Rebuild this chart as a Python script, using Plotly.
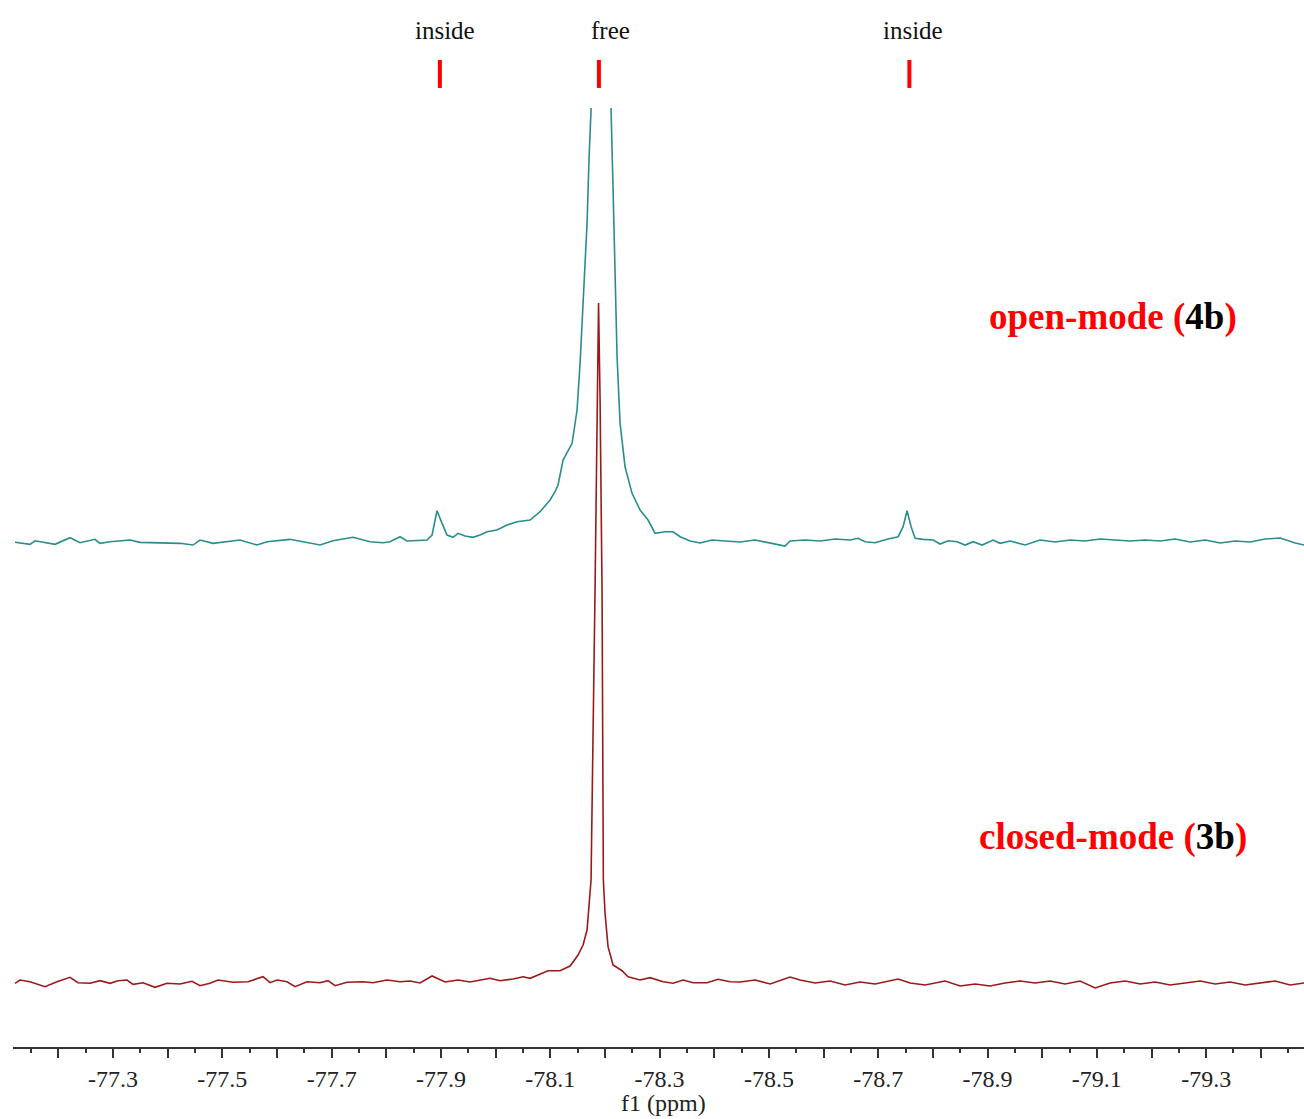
import plotly.graph_objects as go

# ---- open-mode (4b) spectrum: chemical shift (ppm) and intensity (a.u., baseline = 0)
open_ppm = [-77.1207, -77.1481, -77.1572, -77.1938, -77.2213, -77.2396, -77.2670, -77.2762, -77.2945,
            -77.3311, -77.3494, -77.3860, -77.4226, -77.4464, -77.4592, -77.4830, -77.5324, -77.5635,
            -77.5818, -77.6238, -77.6604, -77.6787, -77.7025, -77.7391, -77.7702, -77.7940, -77.8068,
            -77.8251, -77.8379, -77.8745, -77.8837, -77.8928, -77.9020, -77.9111, -77.9221, -77.9312,
            -77.9441, -77.9587, -77.9715, -77.9843, -78.0026, -78.0209, -78.0392, -78.0630, -78.0813,
            -78.0996, -78.1087, -78.1142, -78.1234, -78.1399, -78.1490, -78.1545, -78.1600, -78.1673,
            -78.1710, -78.1746, -78.1801, -78.1911, -78.2039, -78.2112, -78.2149, -78.2185, -78.2222,
            -78.2277, -78.2368, -78.2496, -78.2643, -78.2789, -78.2917, -78.3100, -78.3247, -78.3375,
            -78.3558, -78.3741, -78.3960, -78.4198, -78.4473, -78.4747, -78.5022, -78.5296, -78.5387,
            -78.5662, -78.5936, -78.6211, -78.6485, -78.6632, -78.6760, -78.6943, -78.7162, -78.7364,
            -78.7455, -78.7528, -78.7602, -78.7675, -78.7821, -78.8004, -78.8132, -78.8279, -78.8443,
            -78.8590, -78.8736, -78.8901, -78.9102, -78.9230, -78.9413, -78.9687, -78.9962, -79.0236,
            -79.0511, -79.0785, -79.1060, -79.1334, -79.1609, -79.1883, -79.2158, -79.2432, -79.2707,
            -79.2981, -79.3256, -79.3530, -79.3805, -79.4079, -79.4353, -79.4628, -79.4793]
open_int = [-0.3, -2.3, 1.3, -2.3, 4.3, -0.7, 2.7, -1.3, 0.3,
            2.0, -0.3, -0.7, -1.3, -3.0, 2.0, -1.3, 2.0, -3.0,
            0.3, 2.7, -0.7, -3.0, 1.3, 4.7, 0.3, -0.7, 0.3,
            5.3, 1.0, 2.0, 7.0, 31.3, 18.7, 7.0, 4.7, 8.7,
            6.0, 4.7, 7.0, 10.3, 12.0, 17.0, 20.3, 22.0, 30.3,
            42.0, 50.3, 57.0, 82.0, 98.7, 132.0, 178.7, 238.7, 318.7,
            385.3, 432.0, 700.0, 1400.0, 700.0, 432.0, 352.0, 265.3, 185.3,
            118.7, 75.3, 48.7, 32.0, 22.0, 8.7, 10.3, 10.3, 5.3,
            1.0, -1.0, 2.0, 1.0, 0.0, 2.0, -1.0, -4.0, 1.0,
            2.0, 1.0, 3.0, 2.0, 3.7, 0.3, -0.7, 2.7, 5.3,
            15.3, 31.3, 15.3, 3.7, 2.7, 2.0, -2.0, 1.3, 0.3,
            -3.0, 0.3, -3.0, 2.0, -1.3, 1.0, -3.0, 2.0, 0.0,
            2.0, 1.0, 3.0, 2.0, 1.0, 2.0, 1.0, 3.0, 0.0,
            2.0, -1.0, 1.0, 0.0, 3.0, 4.0, -1.0, -3.0]

# ---- closed-mode (3b) spectrum
closed_ppm = [-77.1207, -77.1298, -77.1481, -77.1755, -77.1975, -77.2213, -77.2359, -77.2579, -77.2762,
              -77.2945, -77.3091, -77.3256, -77.3366, -77.3549, -77.3768, -77.3988, -77.4226, -77.4445,
              -77.4592, -77.4775, -77.4921, -77.5195, -77.5470, -77.5744, -77.5873, -77.6001, -77.6184,
              -77.6330, -77.6550, -77.6787, -77.6934, -77.7062, -77.7281, -77.7574, -77.7757, -77.8013,
              -77.8251, -77.8434, -77.8617, -77.8837, -77.9075, -77.9312, -77.9532, -77.9715, -77.9898,
              -78.0081, -78.0319, -78.0502, -78.0630, -78.0776, -78.0959, -78.1179, -78.1362, -78.1508,
              -78.1600, -78.1673, -78.1710, -78.1746, -78.1819, -78.1856, -78.1883, -78.1911, -78.1947,
              -78.1971, -78.2002, -78.2057, -78.2149, -78.2313, -78.2423, -78.2643, -78.2826, -78.3064,
              -78.3247, -78.3430, -78.3613, -78.3869, -78.4070, -78.4290, -78.4473, -78.4747, -78.5022,
              -78.5387, -78.5570, -78.5845, -78.6119, -78.6394, -78.6668, -78.6943, -78.7364, -78.7583,
              -78.7858, -78.8224, -78.8498, -78.8773, -78.9047, -78.9322, -78.9596, -78.9870, -79.0145,
              -79.0419, -79.0694, -79.0968, -79.1243, -79.1517, -79.1792, -79.2066, -79.2341, -79.2615,
              -79.2890, -79.3164, -79.3439, -79.3713, -79.3988, -79.4262, -79.4536, -79.4793]
closed_int = [-1.3, 2.0, 0.3, -4.7, 0.3, 4.7, -0.7, -1.3, 1.3,
              -1.3, 1.3, 2.0, -2.3, -0.7, -5.3, -1.3, -2.0, 0.7,
              -3.7, -1.3, 2.0, -0.3, 0.3, 5.3, -0.7, 2.0, 0.3,
              -4.7, 0.3, -0.7, 1.3, -3.7, -0.3, 0.3, -0.7, 2.0,
              0.3, 1.0, -1.0, 6.0, 0.0, 2.0, 0.0, 2.0, 3.7,
              1.3, 3.0, 5.3, 3.7, 7.0, 11.3, 11.3, 16.0, 27.0,
              37.0, 52.0, 75.3, 102.0, 392.0, 582.0, 679.0, 582.0, 392.0,
              102.0, 68.7, 35.3, 17.0, 11.3, 5.3, 2.0, 4.3, 0.3,
              -1.3, 2.0, -0.7, -0.7, 2.7, 0.3, 0.0, 2.0, -2.0,
              5.0, 2.0, -1.0, 1.0, -3.0, 0.0, -2.0, 3.0, -1.0,
              -3.0, 1.0, -4.0, -2.0, -4.0, -1.0, 1.0, -1.0, 1.0,
              -2.0, 1.0, -6.0, -1.0, 1.0, -2.0, 0.0, -3.0, -1.0,
              1.0, -2.0, 0.0, -3.0, -1.0, 1.0, -3.0, -1.0]

# ---- peak markers and labels
marker_ppm = [-77.898, -78.189, -78.757]
marker_labels = ["inside", "free", "inside"]

# ---- x axis ticks
tick_vals = [-77.2, -77.3, -77.4, -77.5, -77.6, -77.7, -77.8, -77.9, -78.0, -78.1, -78.2, -78.3,
             -78.4, -78.5, -78.6, -78.7, -78.8, -78.9, -79.0, -79.1, -79.2, -79.3, -79.4]
tick_text = ["", "-77.3", "", "-77.5", "", "-77.7", "", "-77.9", "", "-78.1", "", "-78.3",
             "", "-78.5", "", "-78.7", "", "-78.9", "", "-79.1", "", "-79.3", ""]
x_range = [-77.117, -79.479]

SERIF = "Liberation Serif, Times New Roman, serif"

fig = go.Figure()
fig.add_trace(go.Scatter(x=open_ppm, y=open_int, mode="lines", xaxis="x", yaxis="y2",
                         line=dict(color="#2a8d8d", width=1.6), showlegend=False))
fig.add_trace(go.Scatter(x=closed_ppm, y=closed_int, mode="lines", xaxis="x", yaxis="y",
                         line=dict(color="#9a1a1a", width=1.6), showlegend=False))

for p in marker_ppm:
    fig.add_shape(type="line", xref="x", yref="paper", x0=p, x1=p, y0=0.9160, y1=0.9427,
                  line=dict(color="#ff0000", width=4))

label_shift = [5, 12, 4]
for p, t, s in zip(marker_ppm, marker_labels, label_shift):
    fig.add_annotation(x=p, y=0.9713, xref="x", yref="paper", text=t, showarrow=False,
                       xshift=s, yanchor="middle", font=dict(family=SERIF, size=25, color="#111"))

fig.add_annotation(x=0.8521, y=0.6972, xref="paper", yref="paper", showarrow=False,
                   yanchor="middle", xanchor="center",
                   text="<b><span style='color:#ff0000'>open-mode (</span>"
                        "<span style='color:#000000'>4b</span>"
                        "<span style='color:#ff0000'>)</span></b>",
                   font=dict(family=SERIF, size=37, color="#ff0000"))
fig.add_annotation(x=0.8521, y=0.2006, xref="paper", yref="paper", showarrow=False,
                   yanchor="middle", xanchor="center",
                   text="<b><span style='color:#ff0000'>closed-mode (</span>"
                        "<span style='color:#000000'>3b</span>"
                        "<span style='color:#ff0000'>)</span></b>",
                   font=dict(family=SERIF, size=37, color="#ff0000"))
fig.add_annotation(x=0.5035, y=-0.0535, xref="paper", yref="paper", showarrow=False,
                   yanchor="middle", xanchor="center", text="f1 (ppm)",
                   font=dict(family=SERIF, size=24, color="#222"))

fig.update_layout(
    width=1304, height=1119,
    margin=dict(l=13, r=0, t=0, b=72),
    paper_bgcolor="white", plot_bgcolor="rgba(0,0,0,0)",
    xaxis=dict(range=x_range, tickmode="array", tickvals=tick_vals, ticktext=tick_text,
               showline=True, linecolor="#333", linewidth=1.5, showgrid=False, zeroline=False,
               ticks="outside", ticklen=9, tickwidth=1.5, tickcolor="#333",
               ticklabelstandoff=0,
               tickfont=dict(family=SERIF, size=24, color="#222"),
               minor=dict(tickmode="linear", tick0=-77.25, dtick=0.1, ticks="outside",
                          ticklen=4, tickwidth=1.5, tickcolor="#333", showgrid=False),
               anchor="y"),
    yaxis=dict(range=[-65, 982], domain=[0, 1], visible=False, showgrid=False, zeroline=False),
    yaxis2=dict(range=[-505, 434], domain=[0, 0.8968], anchor="x", visible=False,
                showgrid=False, zeroline=False),
)

fig.write_html("out.html", config={"displayModeBar": False},
               post_script="document.body.style.margin='0';document.body.style.overflow='hidden';")
